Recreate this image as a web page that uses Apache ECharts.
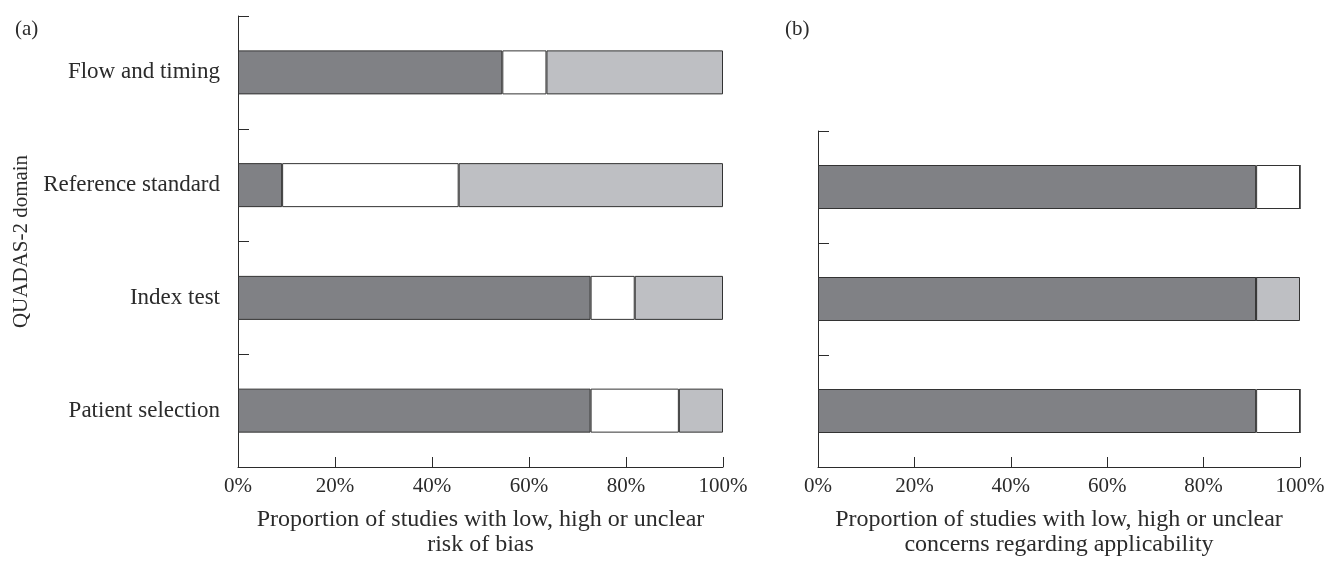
<!DOCTYPE html>
<html lang="en">
<head>
    <meta charset="UTF-8">
    <title>QUADAS-2</title>
    <script type="text/javascript" src="https://cdn.jsdelivr.net/npm/echarts@6/dist/echarts.min.js"></script>
</head>
<body style="margin:0;">
    <div id="main" style="width: 1340px; height:562px;"></div>
    <script type="text/javascript">
        // domains, bottom to top
        var domainsA = ['Patient selection', 'Index test', 'Reference standard', 'Flow and timing'];
        var domainsB = ['Patient selection', 'Index test', 'Reference standard'];

        // (a) risk of bias, % of studies
        var lowA = [72.7, 72.7, 9.1, 54.5];
        var highA = [18.2, 9.1, 36.4, 9.1];
        var unclearA = [9.1, 18.2, 54.5, 36.4];

        // (b) applicability concerns, % of studies
        var lowB = [90.9, 90.9, 90.9];
        var highB = [9.1, 0, 9.1];
        var unclearB = [0, 9.1, 0];

        var tickLabels = ['0%', '20%', '40%', '60%', '80%', '100%'];

        var serif = '"Liberation Serif", "DejaVu Serif", serif';
        var ink = '#2b2b2b';
        var colDark = '#808185';
        var colLight = '#bebfc3';
        var colWhite = '#ffffff';

        var myChart = echarts.init(document.getElementById('main'));

        function xAxisFor(idx, name) {
            return {
                type: 'value',
                gridIndex: idx,
                min: 0,
                max: 100,
                interval: 20,
                name: name,
                nameLocation: 'middle',
                nameGap: 40,
                nameTextStyle: { fontFamily: serif, fontSize: 24, color: ink, lineHeight: 25 },
                axisLine: { show: true, lineStyle: { color: ink, width: 1 } },
                axisTick: { show: true, inside: true, length: 10, lineStyle: { color: ink } },
                axisLabel: {
                    margin: 9,
                    fontFamily: serif, fontSize: 21, color: ink,
                    formatter: function (v) { return tickLabels[Math.round(v / 20)]; }
                },
                splitLine: { show: false }
            };
        }

        function yAxisFor(idx, cats, showLabels) {
            var ax = {
                type: 'category',
                gridIndex: idx,
                data: cats,
                axisLine: { show: true, lineStyle: { color: ink, width: 1 } },
                axisTick: { show: true, inside: true, length: 11, lineStyle: { color: ink } },
                axisLabel: { show: showLabels, margin: 18, fontFamily: serif, fontSize: 23, color: ink }
            };
            if (showLabels) {
                ax.name = 'QUADAS-2 domain';
                ax.nameLocation = 'middle';
                ax.nameGap = 206;
                ax.nameTextStyle = { fontFamily: serif, fontSize: 21, color: ink };
            }
            return ax;
        }

        function barSeries(idx, name, data, color, stack) {
            return {
                name: name,
                type: 'bar',
                xAxisIndex: idx,
                yAxisIndex: idx,
                stack: stack,
                barWidth: 44,
                data: data,
                itemStyle: { color: color, borderColor: '#333333', borderWidth: 1 }
            };
        }

        var option = {
            animation: false,
            title: [
                { text: '(a)', left: 10, top: 14, textStyle: { fontFamily: serif, fontSize: 21, fontWeight: 'normal', color: ink } },
                { text: '(b)', left: 780, top: 14, textStyle: { fontFamily: serif, fontSize: 21, fontWeight: 'normal', color: ink } }
            ],
            grid: [
                { left: 238, right: 617, top: 16, bottom: 88 },
                { left: 818, right: 40, top: 131, bottom: 88 }
            ],
            xAxis: [
                xAxisFor(0, 'Proportion of studies with low, high or unclear\nrisk of bias'),
                xAxisFor(1, 'Proportion of studies with low, high or unclear\nconcerns regarding applicability')
            ],
            yAxis: [
                yAxisFor(0, domainsA, true),
                yAxisFor(1, domainsB, false)
            ],
            series: [
                barSeries(0, 'Low', lowA, colDark, 'a'),
                barSeries(0, 'High', highA, colWhite, 'a'),
                barSeries(0, 'Unclear', unclearA, colLight, 'a'),
                barSeries(1, 'Low', lowB, colDark, 'b'),
                barSeries(1, 'High', highB, colWhite, 'b'),
                barSeries(1, 'Unclear', unclearB, colLight, 'b')
            ]
        };

        myChart.setOption(option);
    </script>
</body>
</html>
